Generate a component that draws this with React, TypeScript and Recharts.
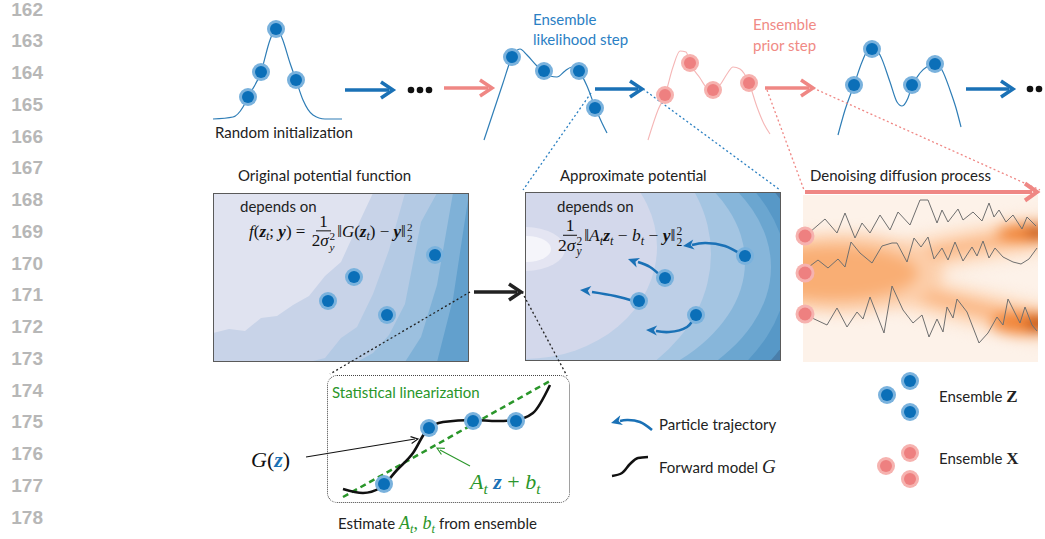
import React from 'react';
import { ComposedChart, AreaChart, ScatterChart, Line, Area, Scatter, XAxis, YAxis } from 'recharts';

const W = 1045;
const H = 539;

// ---------- data ----------
const lineNumbers = [162, 163, 164, 165, 166, 167, 168, 169, 170, 171, 172, 173, 174, 175, 176, 177, 178];

// top row density curves (figure units)
const initCurve = [[213,119],[233,117],[243,107],[248,97],[261,72],[270,40],[276,28],[282,38],[290,63],[296,80],[303,100],[313,115],[325,119],[342,119]];
const likelihoodCurve = [[484,140],[493,113],[503,83],[512,57],[520,49],[527,55],[537,66],[543,71],[550,76],[557,77],[565,71],[572,67],[579,71],[587,86],[595,107],[602,123],[607,133]];
const priorCurve = [[648,140],[658,110],[665,95],[673,67],[680,51],[686,52],[690,63],[700,78],[707,88],[713,90],[720,85],[727,74],[733,67],[740,69],[749,83],[757,107],[764,124],[770,134]];
const posteriorCurve = [[838,135],[845,110],[854,85],[862,62],[868,50],[874,48],[880,55],[890,82],[897,102],[902,106],[908,98],[912,86],[920,73],[928,66],[935,63],[942,70],[950,90],[956,108],[961,127]];

const initDots = [[248,97],[261,72],[276,29],[296,80]];
const likelihoodDots = [[512,57],[544,71],[579,71],[595,108]];
const priorDots = [[665,95],[690,63],[713,90],[749,83]];
const posteriorDots = [[854,85],[872,49],[912,85],[935,64]];
const box1Dots = [[435,255],[354,277],[328,301],[387,315]];
const box2Dots = [[745,256],[665,278],[639,301],[696,315]];
const diffusionDots = [[805,236],[805,273],[805,314]];
const linDots = [[384,484],[429,428],[473,421],[516,421]];
const legendZDots = [[887,395],[910,381],[910,412]];
const legendXDots = [[886,466],[910,453],[910,479]];
const ellipsisDots = [[411,90],[420,90],[429,90],[1030,89],[1039,89]];

// arrows
const blueShafts = [[[345,90],[389,90]], [[595,89],[638,89]], [[966,89],[1009,89]]];
const blueHeads = [[393,90,0],[642,89,0],[1013,89,0]];
const pinkShafts = [[[444,88],[488,88]], [[765,88],[809,88]]];
const pinkHeads = [[492,88,0],[813,88,0]];
const blackShaft = [[474,292],[517,292]];
const blackHead = [[521,292,0]];
const diffusionShaft = [[805,192],[1032,192]];
const diffusionHead = [[1037,192,0]];

// dotted zoom guides
const blueGuides = [[[591,93],[523,190]], [[643,89],[780,190]]];
const pinkGuides = [[[767,90],[804,190]], [[813,88],[1040,190]]];
const blackGuides = [[[470,292],[330,374]], [[522,292],[567,376]]];

// particle trajectories in approximate potential
const trajectories = [
  [[742,255],[725,246],[705,243],[692,245]],
  [[662,277],[650,267],[638,262]],
  [[637,302],[615,296],[592,292]],
  [[695,315],[687,327],[669,332],[656,331]],
];
const trajectoryHeads = [[683,246,172],[628,259,200],[580,290,185],[646,330,182]];
const legendTrajectory = [[652,430],[640,422],[627,420],[620,421]];
const legendTrajectoryHead = [[611,423,165]];

// statistical linearization
const forwardModel = [[343,489],[363,493],[380,488],[397,470],[413,453],[427,430],[443,422],[473,420],[497,421],[515,420],[533,413],[550,385]];
const linearFit = [[343,497],[550,381]];
const gLabelArrow = [[306,457],[415,439]];
const gLabelHead = [[418,439,-9]];
const fitLabelArrow = [[470,466],[440,450]];
const fitLabelHead = [[437,448,209]];
const legendWave = [[612,476],[622,473],[630,464],[638,458],[648,457]];

// random walks in diffusion panel
const walk1 = [[810,232],[825,219],[837,233],[845,213],[855,238],[862,223],[870,233],[880,215],[890,230],[898,212],[910,225],[920,200],[928,200],[937,223],[942,210],[948,222],[958,209],[963,220],[973,212],[982,221],[989,203],[994,217],[999,210],[1006,222],[1013,215],[1022,229],[1027,217],[1036,226]];
const walk2 = [[810,266],[818,260],[828,268],[838,259],[845,267],[851,242],[860,253],[872,263],[882,246],[892,243],[897,243],[907,262],[914,238],[921,247],[928,237],[934,259],[942,248],[948,260],[955,242],[963,261],[972,247],[977,256],[983,241],[989,258],[995,248],[1003,257],[1013,262],[1021,264],[1029,259],[1037,248]];
const walk3 = [[810,317],[827,325],[837,308],[847,327],[857,312],[863,319],[870,297],[884,333],[892,286],[903,310],[913,323],[922,315],[929,337],[937,319],[943,332],[947,307],[953,318],[957,299],[967,312],[979,343],[988,333],[997,317],[1003,325],[1008,299],[1020,323],[1025,307],[1032,325],[1037,331]];

// original potential contour boundaries (box-local units, height from bottom)
const box1X = [0, 16, 32, 48, 64, 80, 96, 112, 128, 144, 160, 176, 192, 208, 224, 240, 256];
const box1Level1 = [29, 33, 31, 44, 46, 57, 66, 86, 100, 135, 169, 169, 169, 169, 169, 169, 169];
const box1Level2 = [0, 0, 0, 0, 0, 0, 0, 4, 24, 35, 68, 112, 169, 169, 169, 169, 169];
const box1Level3 = [0, 0, 0, 0, 0, 0, 0, 0, 0, 0, 9, 27, 58, 140, 169, 169, 169];
const box1Level4 = [0, 0, 0, 0, 0, 0, 0, 0, 0, 0, 0, 0, 0, 25, 77, 169, 169];
const box1Level5 = [0, 0, 0, 0, 0, 0, 0, 0, 0, 0, 0, 0, 0, 0, 0, 63, 169];
const box1Colors = ['#c8d3e8', '#b4cae4', '#9cc0df', '#7fb1d7', '#62a0cd'];

// approximate potential: nested elliptical level sets (box-local units)
const box2Levels = [
  { x: 0, y: 82, rx: 282, ry: 176, level: 0 },
  { x: 0, y: 80, rx: 262, ry: 168, level: 1 },
  { x: 0, y: 75, rx: 246, ry: 150, level: 2 },
  { x: 0, y: 70, rx: 220, ry: 138, level: 3 },
  { x: 0, y: 62, rx: 186, ry: 150, level: 4 },
  { x: 0, y: 55, rx: 132, ry: 112, level: 5 },
  { x: 0, y: 57, rx: 40, ry: 22, level: 6 },
  { x: 2, y: 57, rx: 24, ry: 13, level: 7 },
];
const box2Colors = ['#5798c7', '#6ba6d0', '#87b6da', '#a4c5e2', '#bdcfe7', '#d3d8eb', '#e4e5f2', '#f5f5fa'];

// diffusion density (box-local units)
const upperBranch = [[30,74],[100,64],[160,52],[240,39]];
const lowerBranch = [[30,84],[100,95],[160,110],[240,128]];
const heatBlobs = [
  { x: 40, y: 78, rx: 100, ry: 40, level: 0 },
  { x: 30, y: 78, rx: 85, ry: 27, level: 1 },
  { x: 222, y: 38, rx: 28, ry: 9, level: 2 },
  { x: 236, y: 37, rx: 12, ry: 6, level: 3 },
  { x: 220, y: 128, rx: 32, ry: 11, level: 2 },
  { x: 236, y: 129, rx: 12, ry: 7, level: 3 },
];
const heatColors = ['#fcceaa', '#f9ae74', '#f08234', '#b94400'];

// ---------- helpers ----------
const P = (arr: number[][]) => arr.map(([x, y]) => ({ x, y }));
const PA = (arr: number[][]) => arr.map(([x, y, angle]) => ({ x, y, angle }));

const BLUE = '#0b6fb8';
const BLUE_HALO = '#7ab2dd';
const PINK = '#ee8080';
const PINK_HALO = '#f6b2af';
const ARROW_BLUE = '#1a71b6';
const ARROW_PINK = '#ef8784';
const CURVE_BLUE = '#2e7db6';
const GREEN = '#2a962a';
const SANS = 'Lato, "Noto Sans", sans-serif';
const SERIF = '"Liberation Serif", "DejaVu Serif", serif';

const dotShape = (inner: string, halo: string, r1 = 9, r2 = 6) => (p: any) => (
  <g>
    <circle cx={p.cx} cy={p.cy} r={r1} fill={halo} />
    <circle cx={p.cx} cy={p.cy} r={r2} fill={inner} />
  </g>
);
const plainDot = (color: string, r: number) => (p: any) => <circle cx={p.cx} cy={p.cy} r={r} fill={color} />;
const chevron = (color: string, len: number, wid: number, sw: number) => (p: any) => (
  <polyline
    points={`${-len},${-wid / 2} 0,0 ${-len},${wid / 2}`}
    transform={`translate(${p.cx},${p.cy}) rotate(${p.payload.angle || 0})`}
    fill="none"
    stroke={color}
    strokeWidth={sw}
    strokeLinejoin="miter"
  />
);
const triangle = (color: string, len: number, wid: number) => (p: any) => (
  <polygon
    points={`0,0 ${-len},${-wid / 2} ${-len * 0.72},0 ${-len},${wid / 2}`}
    transform={`translate(${p.cx},${p.cy}) rotate(${p.payload.angle || 0})`}
    fill={color}
  />
);
const ellipseShape = (colors: string[]) => (p: any) => (
  <ellipse cx={p.cx} cy={p.cy} rx={p.payload.rx} ry={p.payload.ry} fill={colors[p.payload.level]} />
);

const ln = (key: string, data: number[][], stroke: string, width: number, extra: any = {}) => (
  <Line
    key={key}
    data={P(data)}
    dataKey="y"
    type="linear"
    stroke={stroke}
    strokeWidth={width}
    dot={false}
    activeDot={false}
    isAnimationActive={false}
    {...extra}
  />
);
const sc = (key: string, data: any[], shape: any) => (
  <Scatter key={key} data={data} shape={shape} isAnimationActive={false} />
);

const Txt = ({ x, y, size = 15, color = '#222', font = SANS, children }: any) => (
  <div
    style={{
      position: 'absolute', left: x, top: y, transform: 'translateY(-50%)', fontSize: size, color,
      fontFamily: font, whiteSpace: 'nowrap', lineHeight: 1.15,
    }}
  >
    {children}
  </div>
);
const Sub = ({ children }: any) => (
  <span style={{ fontSize: '0.7em', position: 'relative', top: '0.3em' }}><i>{children}</i></span>
);
const SS = ({ sup, sub }: any) => (
  <span style={{ display: 'inline-flex', flexDirection: 'column', fontSize: '0.66em', lineHeight: 0.95, verticalAlign: 'middle', marginLeft: 1 }}>
    <span>{sup}</span>
    <span>{sub}</span>
  </span>
);
const Frac = ({ n, d }: any) => (
  <span style={{ display: 'inline-flex', flexDirection: 'column', alignItems: 'center', verticalAlign: 'middle', margin: '0 2px' }}>
    <span style={{ borderBottom: '1px solid #111', padding: '0 3px', lineHeight: 1.0 }}>{n}</span>
    <span style={{ lineHeight: 1.05 }}>{d}</span>
  </span>
);
const BZ = ({ c }: any) => <b style={{ color: c }}><i>z</i></b>;
const BY = () => <b><i>y</i></b>;

const axesFor = (w: number, h: number, x0 = 0, y0 = 0) => [
  <XAxis key="x" type="number" dataKey="x" domain={[x0, x0 + w]} hide allowDataOverflow />,
  <YAxis key="y" type="number" dataKey="y" domain={[y0, y0 + h]} reversed hide allowDataOverflow />,
];
const M0 = { top: 0, right: 0, bottom: 0, left: 0 };

export default function App() {
  const box1Data = box1X.map((x, i) => ({
    x, l1: box1Level1[i], l2: box1Level2[i], l3: box1Level3[i], l4: box1Level4[i], l5: box1Level5[i],
  }));

  return (
    <div style={{ position: 'absolute', left: 0, top: 0, width: W, height: H, background: '#fff', overflow: 'hidden' }}>
      {/* line numbers */}
      {lineNumbers.map((n, i) => (
        <div
          key={n}
          style={{
            position: 'absolute', left: 0, width: 43, top: 9.5 + i * 31.75, transform: 'translateY(-50%)',
            textAlign: 'right', fontFamily: '"Liberation Sans", Arial, sans-serif', fontWeight: 700,
            fontSize: 19, color: '#b7b7b7', lineHeight: 0.9,
          }}
        >
          {n}
        </div>
      ))}

      {/* original potential box */}
      <div style={{ position: 'absolute', left: 213, top: 193, width: 256, height: 169, boxSizing: 'border-box', border: '1.5px solid #5a5a5a', overflow: 'hidden', background: '#e0e3f0' }}>
        <div style={{ position: 'absolute', left: -1.5, top: -1.5 }}>
          <AreaChart width={256} height={169} data={box1Data} margin={M0}>
            <XAxis type="number" dataKey="x" domain={[0, 256]} hide />
            <YAxis type="number" domain={[0, 169]} hide />
            {['l1', 'l2', 'l3', 'l4', 'l5'].map((k, i) => (
              <Area key={k} type="linear" dataKey={k} stroke="none" fill={box1Colors[i]} fillOpacity={1} dot={false} activeDot={false} isAnimationActive={false} />
            ))}
          </AreaChart>
        </div>
      </div>

      {/* approximate potential box */}
      <div style={{ position: 'absolute', left: 525, top: 192, width: 256, height: 169, boxSizing: 'border-box', border: '1.5px solid #5a5a5a', overflow: 'hidden', background: '#4a7eaa' }}>
        <div style={{ position: 'absolute', left: -1.5, top: -1.5 }}>
          <ScatterChart width={256} height={169} margin={M0}>
            {axesFor(256, 169)}
            <Scatter data={box2Levels} shape={ellipseShape(box2Colors)} isAnimationActive={false} />
          </ScatterChart>
        </div>
      </div>

      {/* diffusion density panel */}
      <div style={{ position: 'absolute', left: 803, top: 195, width: 235, height: 167, overflow: 'hidden', background: '#fdf2e9' }}>
        <div style={{ position: 'absolute', left: -20, top: -20, filter: 'blur(7px)' }}>
          <ComposedChart width={275} height={207} margin={M0}>
            {axesFor(275, 207, -20, -20)}
            {ln('hazeU', upperBranch, '#fde0c8', 40, { strokeLinecap: 'round', type: 'monotone' })}
            {ln('hazeL', lowerBranch, '#fde0c8', 40, { strokeLinecap: 'round', type: 'monotone' })}
            {ln('brU', upperBranch, '#fbb886', 15, { strokeLinecap: 'round', type: 'monotone' })}
            {ln('brL', lowerBranch, '#fbb886', 17, { strokeLinecap: 'round', type: 'monotone' })}
            <Scatter data={heatBlobs} shape={ellipseShape(heatColors)} isAnimationActive={false} />
          </ComposedChart>
        </div>
      </div>

      {/* linearization frame */}
      <div style={{ position: 'absolute', left: 327, top: 375, width: 243, height: 128, boxSizing: 'border-box', border: '1.3px dotted #444', borderRadius: 10 }} />

      {/* overlay with curves, particles, arrows */}
      <div style={{ position: 'absolute', left: 0, top: 0 }}>
        <ComposedChart width={W} height={H} margin={M0}>
          {axesFor(W, H)}
          {ln('initC', initCurve, CURVE_BLUE, 1.2, { type: 'monotone' })}
          {ln('likeC', likelihoodCurve, CURVE_BLUE, 1.2, { type: 'monotone' })}
          {ln('priorC', priorCurve, '#f5b6b6', 1.1, { type: 'monotone' })}
          {ln('postC', posteriorCurve, CURVE_BLUE, 1.2, { type: 'monotone' })}

          {blueGuides.map((s, i) => ln('bg' + i, s, '#2a7fc1', 1.3, { strokeDasharray: '2 2.5' }))}
          {pinkGuides.map((s, i) => ln('pg' + i, s, '#ef8784', 1.3, { strokeDasharray: '2 2.5' }))}
          {blackGuides.map((s, i) => ln('kg' + i, s, '#222', 1.3, { strokeDasharray: '2 2.5' }))}

          {blueShafts.map((s, i) => ln('bs' + i, s, ARROW_BLUE, 3.5))}
          {pinkShafts.map((s, i) => ln('ps' + i, s, ARROW_PINK, 3.5))}
          {ln('ks', blackShaft, '#222', 3.5)}
          {ln('ds', diffusionShaft, ARROW_PINK, 4)}

          {ln('w1', walk1, '#6f6f6f', 1)}
          {ln('w2', walk2, '#6f6f6f', 1)}
          {ln('w3', walk3, '#6f6f6f', 1)}

          {trajectories.map((s, i) => ln('tr' + i, s, ARROW_BLUE, 2.6, { type: 'natural' }))}
          {ln('legTr', legendTrajectory, ARROW_BLUE, 2.6, { type: 'natural' })}
          {ln('legWave', legendWave, '#111', 2.5, { type: 'monotone' })}

          {ln('fit', linearFit, GREEN, 2.5, { strokeDasharray: '6 4' })}
          {ln('fm', forwardModel, '#111', 2.6, { type: 'monotone' })}
          {ln('gArrow', gLabelArrow, '#111', 1.1)}
          {ln('fitArrow', fitLabelArrow, GREEN, 1.1)}

          {sc('bh', PA(blueHeads), chevron(ARROW_BLUE, 12, 16, 3.5))}
          {sc('ph', PA(pinkHeads), chevron(ARROW_PINK, 12, 16, 3.5))}
          {sc('kh', PA(blackHead), chevron('#222', 12, 16, 3.5))}
          {sc('dh', PA(diffusionHead), chevron(ARROW_PINK, 12, 17, 4))}
          {sc('th', PA(trajectoryHeads), triangle(ARROW_BLUE, 11, 10))}
          {sc('lth', PA(legendTrajectoryHead), triangle(ARROW_BLUE, 11, 10))}
          {sc('gh', PA(gLabelHead), chevron('#111', 7, 7, 1.1))}
          {sc('fh', PA(fitLabelHead), chevron(GREEN, 7, 7, 1.1))}

          {sc('ell', P(ellipsisDots), plainDot('#111', 3.3))}
          {sc('d1', P(initDots), dotShape(BLUE, BLUE_HALO))}
          {sc('d2', P(likelihoodDots), dotShape(BLUE, BLUE_HALO))}
          {sc('d3', P(priorDots), dotShape(PINK, PINK_HALO))}
          {sc('d4', P(posteriorDots), dotShape(BLUE, BLUE_HALO))}
          {sc('d5', P(box1Dots), dotShape(BLUE, BLUE_HALO))}
          {sc('d6', P(box2Dots), dotShape(BLUE, BLUE_HALO))}
          {sc('d7', P(diffusionDots), dotShape(PINK, PINK_HALO, 9.5, 6.5))}
          {sc('d8', P(linDots), dotShape(BLUE, BLUE_HALO))}
          {sc('d9', P(legendZDots), dotShape(BLUE, BLUE_HALO))}
          {sc('d10', P(legendXDots), dotShape(PINK, PINK_HALO))}
        </ComposedChart>
      </div>

      {/* texts */}
      <Txt x={215} y={133}>Random initialization</Txt>
      <Txt x={533} y={20} color="#2b80c4">Ensemble</Txt>
      <Txt x={533} y={40} color="#2b80c4">likelihood step</Txt>
      <Txt x={753} y={25} color="#f08a85">Ensemble</Txt>
      <Txt x={753} y={46} color="#f08a85">prior step</Txt>

      <Txt x={238} y={176}>Original potential function</Txt>
      <Txt x={240} y={207}>depends on</Txt>
      <Txt x={249} y={233} size={17} font={SERIF} color="#111">
        <i>f</i>(<BZ /><Sub>t</Sub>; <BY />) = <Frac n="1" d={<>2<i>σ</i><SS sup="2" sub={<i>y</i>} /></>} />
        ‖<i>G</i>(<BZ /><Sub>t</Sub>) − <BY />‖<SS sup="2" sub="2" />
      </Txt>

      <Txt x={560} y={176}>Approximate potential</Txt>
      <Txt x={557} y={207}>depends on</Txt>
      <Txt x={556} y={237} size={17.5} font={SERIF} color="#111">
        <Frac n="1" d={<>2<i>σ</i><SS sup="2" sub={<i>y</i>} /></>} />
        ‖<i>A</i><Sub>t</Sub><BZ /><Sub>t</Sub> − <i>b</i><Sub>t</Sub> − <BY />‖<SS sup="2" sub="2" />
      </Txt>

      <Txt x={810} y={176}>Denoising diffusion process</Txt>

      <Txt x={332} y={393} color={GREEN}>Statistical linearization</Txt>
      <Txt x={251} y={460} size={22} font={SERIF} color="#111">
        <i>G</i>(<BZ c="#1a71b6" />)
      </Txt>
      <Txt x={470} y={482} size={22} font={SERIF} color={GREEN}>
        <i>A</i><Sub>t</Sub> <BZ c="#1a71b6" /> + <i>b</i><Sub>t</Sub>
      </Txt>
      <Txt x={338} y={523}>
        Estimate <span style={{ fontFamily: SERIF, fontSize: 18, color: GREEN }}><i>A</i><Sub>t</Sub>, <i>b</i><Sub>t</Sub></span> from ensemble
      </Txt>

      <Txt x={659} y={425}>Particle trajectory</Txt>
      <Txt x={659} y={467}>
        Forward model <span style={{ fontFamily: SERIF, fontSize: 19 }}><i>G</i></span>
      </Txt>
      <Txt x={939} y={397}>
        Ensemble <span style={{ fontFamily: SERIF, fontSize: 17, fontWeight: 700 }}>Z</span>
      </Txt>
      <Txt x={939} y={459}>
        Ensemble <span style={{ fontFamily: SERIF, fontSize: 17, fontWeight: 700 }}>X</span>
      </Txt>
    </div>
  );
}
